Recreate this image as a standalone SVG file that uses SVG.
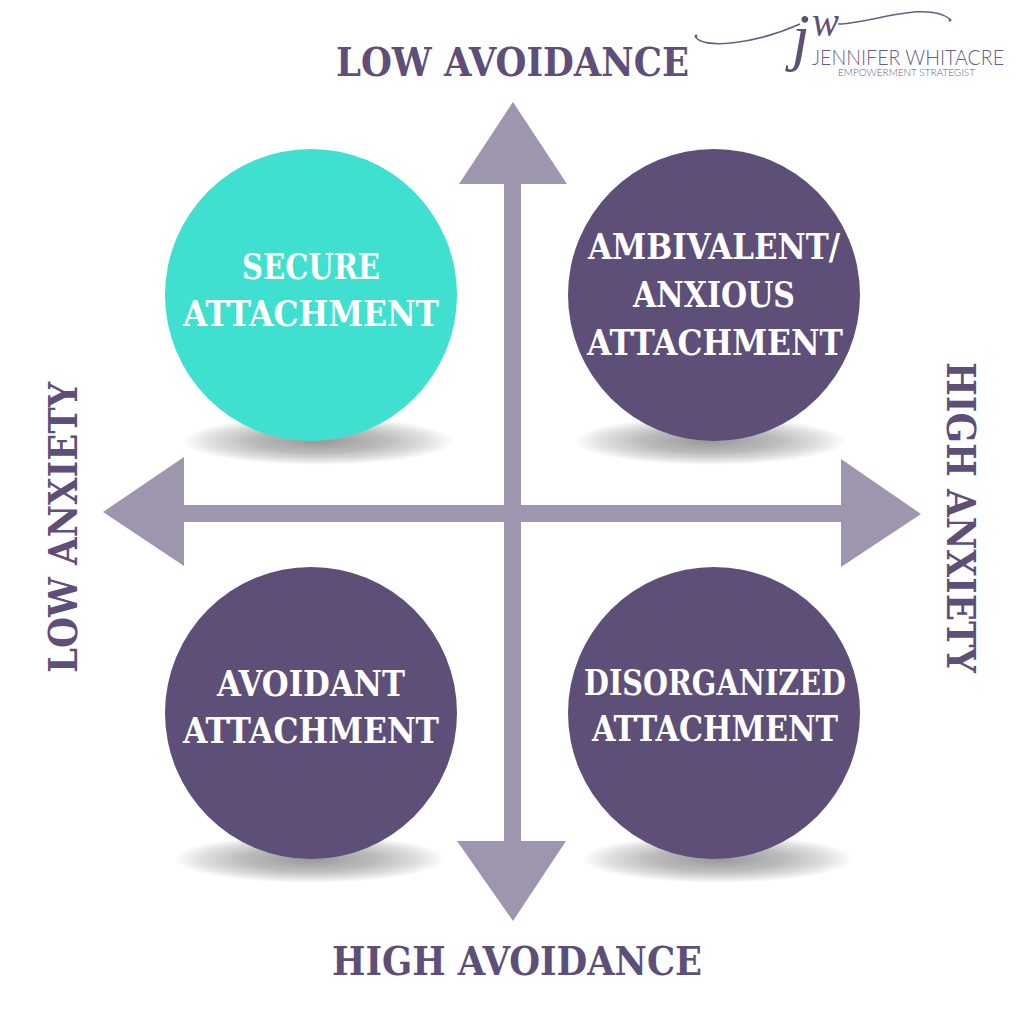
<svg xmlns="http://www.w3.org/2000/svg" width="1024" height="1024" viewBox="0 0 1024 1024">
<defs>
<radialGradient id="sh"><stop offset="0" stop-color="#989898"/><stop offset="0.5" stop-color="#bcbcbc"/><stop offset="0.8" stop-color="#e0e0e0"/><stop offset="1" stop-color="#fff"/></radialGradient>
</defs>
<style>
.ax{font-family:"DejaVu Serif Condensed","DejaVu Serif",serif;font-stretch:condensed;font-weight:700;fill:#5d4f77;font-size:39px}
.lb{font-family:"DejaVu Serif Condensed","DejaVu Serif",serif;font-stretch:condensed;font-weight:700;fill:#fff;font-size:35px;text-anchor:middle}
.sh{fill:url(#sh)}
.pu{fill:#5d4f77}
.ar{fill:#9e95ae}
.lg{font-family:"Lato","Liberation Sans",sans-serif;font-weight:300;fill:#6a5c84}
.jw{font-family:"Liberation Serif",serif;font-style:italic;fill:#5d4f77}
.sw{fill:none;stroke:#6a5c84;stroke-width:1.5}
</style>
<rect width="1024" height="1024" fill="#fff"/>
<g id="connectors">
<rect class="ar" x="504" y="180" width="17" height="665"/>
<rect class="ar" x="180" y="505" width="665" height="17"/>
<polygon class="ar" points="513,102 567,184 459,184"/>
<polygon class="ar" points="513,921 566,841 457,841"/>
<polygon class="ar" points="103,512 184,457 184,566"/>
<polygon class="ar" points="921,514 841,459 841,567"/>
</g>
<g id="node-secure">
<ellipse class="sh" cx="318" cy="441" rx="136" ry="24"/>
<circle cx="311" cy="295" r="146" fill="#40e0d0"/>
<text class="lb" x="311" y="279" textLength="138" lengthAdjust="spacingAndGlyphs">SECURE</text>
<text class="lb" x="311" y="326" textLength="256" lengthAdjust="spacingAndGlyphs">ATTACHMENT</text>
</g>
<g id="node-anxious">
<ellipse class="sh" cx="710" cy="441" rx="136" ry="24"/>
<circle class="pu" cx="714" cy="295" r="146"/>
<text class="lb" x="714" y="259" textLength="252" lengthAdjust="spacingAndGlyphs">AMBIVALENT/</text>
<text class="lb" x="714" y="307" textLength="162" lengthAdjust="spacingAndGlyphs">ANXIOUS</text>
<text class="lb" x="715" y="355" textLength="256" lengthAdjust="spacingAndGlyphs">ATTACHMENT</text>
</g>
<g id="node-avoidant">
<ellipse class="sh" cx="310" cy="859" rx="136" ry="24"/>
<circle class="pu" cx="311" cy="713" r="146"/>
<text class="lb" x="311" y="696" textLength="188" lengthAdjust="spacingAndGlyphs">AVOIDANT</text>
<text class="lb" x="311" y="743" textLength="256" lengthAdjust="spacingAndGlyphs">ATTACHMENT</text>
</g>
<g id="node-disorganized">
<ellipse class="sh" cx="718" cy="859" rx="136" ry="24"/>
<circle class="pu" cx="714" cy="713" r="146"/>
<text class="lb" x="715" y="695" textLength="262" lengthAdjust="spacingAndGlyphs">DISORGANIZED</text>
<text class="lb" x="715" y="741" textLength="246" lengthAdjust="spacingAndGlyphs">ATTACHMENT</text>
</g>
<g id="axis-labels">
<text class="ax" x="336" y="76" textLength="353" lengthAdjust="spacingAndGlyphs">LOW AVOIDANCE</text>
<text class="ax" x="332" y="975" textLength="370" lengthAdjust="spacingAndGlyphs">HIGH AVOIDANCE</text>
<text class="ax" transform="translate(77 673) rotate(-90)" textLength="291" lengthAdjust="spacingAndGlyphs">LOW ANXIETY</text>
<text class="ax" transform="translate(947 362) rotate(90)" textLength="311" lengthAdjust="spacingAndGlyphs">HIGH ANXIETY</text>
</g>
<g id="logo">
<path class="sw" d="M695 36C702 50 755 44 800 24"/>
<path class="sw" d="M838 24C870 24 925 0 950 19"/>
<circle cx="696" cy="36" r="1.5" fill="#6a5c84"/><circle cx="950" cy="20" r="1.5" fill="#6a5c84"/>
<text class="jw" x="792" y="58" font-size="64">j</text>
<text class="jw" x="812" y="36" font-size="44" textLength="27" lengthAdjust="spacingAndGlyphs">w</text>
<text class="lg" x="812" y="65" font-size="22" textLength="192" lengthAdjust="spacingAndGlyphs">JENNIFER WHITACRE</text>
<text class="lg" x="838" y="75.500" font-size="9" textLength="137" lengthAdjust="spacingAndGlyphs">EMPOWERMENT STRATEGIST</text>
</g>
</svg>
